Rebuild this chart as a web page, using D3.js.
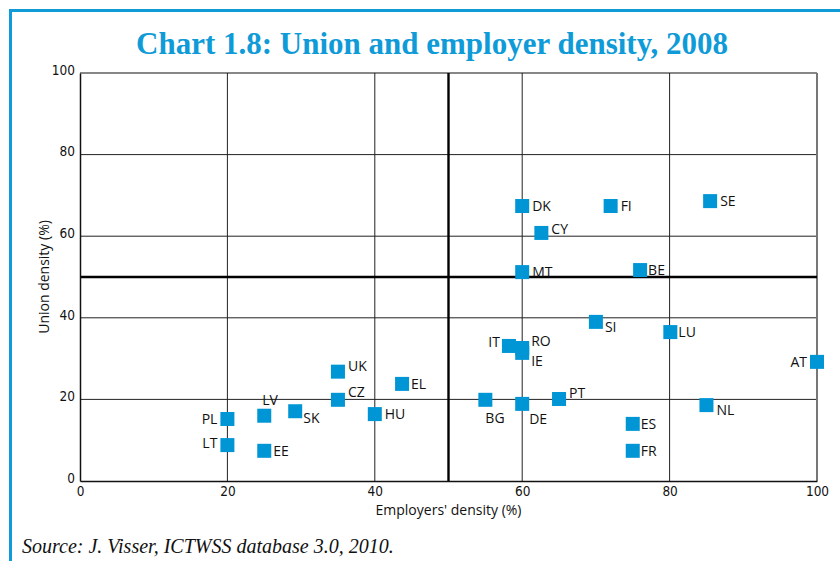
<!DOCTYPE html>
<html>
<head>
<meta charset="utf-8">
<script src="https://cdn.jsdelivr.net/npm/d3@7"></script>
<style>
  html, body { margin: 0; padding: 0; background: #fff; }
  svg { display: block; }
</style>
</head>
<body>
<div id="chart"></div>
<script>
// ==========================
// DATA
// ==========================
const countries = ["DK", "FI", "SE", "CY", "MT", "BE", "SI", "LU", "IT", "RO", "IE", "AT",
                   "UK", "EL", "CZ", "HU", "SK", "LV", "PL", "LT", "EE", "BG", "DE", "PT", "ES", "FR", "NL"];
const employerDensity = [60, 72, 85.5, 62.6, 60, 76, 70, 80.1, 58.2, 60, 60, 100,
                         35, 43.7, 35, 40, 29.2, 25, 20, 20, 25, 55, 60, 65, 75, 75, 85];
const unionDensity = [67.4, 67.4, 68.6, 60.8, 51.2, 51.7, 39, 36.5, 33.1, 32.6, 31.4, 29.2,
                      26.8, 23.8, 19.9, 16.4, 17.1, 16, 15.2, 8.8, 7.4, 19.9, 18.9, 20.1, 14, 7.4, 18.6];
const xTicks = [0, 20, 40, 60, 80, 100];
const yTicks = [0, 20, 40, 60, 80, 100];

// label placement: [dx, dy, anchor] relative to square centre
const labelPos = {
  DK: [10, 0, "start"], FI: [10, 0, "start"], SE: [10, 0, "start"], CY: [10, -4, "start"],
  MT: [10, 0, "start"], BE: [8, 0, "start"], SI: [9, 5, "start"], LU: [8, 0, "start"],
  IT: [-9, -4, "end"], RO: [9, -7, "start"], IE: [9, 8, "start"], AT: [-10, 0, "end"],
  UK: [10, -6, "start"], EL: [9, 0, "start"], CZ: [10, -8, "start"], HU: [10, 0, "start"],
  SK: [8, 7, "start"], LV: [-2, -16, "start"], PL: [-10, 0, "end"], LT: [-10, -2, "end"],
  EE: [9, 0, "start"], BG: [0, 18, "start"], DE: [7, 15, "start"], PT: [10, -6, "start"],
  ES: [8, 0, "start"], FR: [8, 0, "start"], NL: [10, 5, "start"]
};

const points = countries.map((c, i) => ({ code: c, x: employerDensity[i], y: unionDensity[i] }));

// ==========================
// SETUP
// ==========================
const width = 840;
const height = 561;
const blue = "#0f9bd7";

const svg = d3.select("#chart")
  .append("svg")
  .attr("width", width)
  .attr("height", height);

// frame (left + top blue border)
svg.append("path")
  .attr("d", `M10.5,${height} V10.5 H${width}`)
  .attr("fill", "none")
  .attr("stroke", blue)
  .attr("stroke-width", 3);

svg.append("text")
  .attr("x", 432)
  .attr("y", 54)
  .attr("text-anchor", "middle")
  .attr("font-family", "'Liberation Serif', 'DejaVu Serif', serif")
  .attr("font-weight", "bold")
  .attr("font-size", 31)
  .attr("fill", blue)
  .text("Chart 1.8: Union and employer density, 2008");

const x = d3.scaleLinear().domain([0, 100]).range([80, 817]);
const y = d3.scaleLinear().domain([0, 100]).range([481, 73]);

const plot = svg.append("g");

// gridlines
plot.selectAll(".vgrid")
  .data(xTicks.filter(d => d > 0 && d < 100))
  .enter().append("line")
  .attr("x1", d => x(d)).attr("x2", d => x(d))
  .attr("y1", y(0)).attr("y2", y(100))
  .attr("stroke", "#222").attr("stroke-width", 1);

plot.selectAll(".hgrid")
  .data(yTicks.filter(d => d > 0 && d < 100))
  .enter().append("line")
  .attr("x1", x(0)).attr("x2", x(100))
  .attr("y1", d => y(d)).attr("y2", d => y(d))
  .attr("stroke", "#222").attr("stroke-width", 1);

// top and right borders
plot.append("line")
  .attr("x1", x(0)).attr("x2", x(100))
  .attr("y1", y(100)).attr("y2", y(100))
  .attr("stroke", "#111").attr("stroke-width", 1.2);
plot.append("line")
  .attr("x1", x(100)).attr("x2", x(100))
  .attr("y1", y(100)).attr("y2", y(0))
  .attr("stroke", "#777").attr("stroke-width", 2);

// 50% dividers
plot.append("line")
  .attr("x1", x(50)).attr("x2", x(50))
  .attr("y1", y(0)).attr("y2", y(100))
  .attr("stroke", "#000").attr("stroke-width", 2.4);
plot.append("line")
  .attr("x1", x(0)).attr("x2", x(100))
  .attr("y1", y(50)).attr("y2", y(50))
  .attr("stroke", "#000").attr("stroke-width", 2.4);

// axes
const tickFont = "'DejaVu Sans Condensed', 'DejaVu Sans', sans-serif";

const xAxis = svg.append("g")
  .attr("transform", `translate(0,${y(0)})`)
  .call(d3.axisBottom(x).tickValues(xTicks).tickSize(0).tickPadding(5));
xAxis.select(".domain").attr("stroke", "#111").attr("stroke-width", 1.5);
xAxis.selectAll("text")
  .attr("font-family", tickFont).attr("font-stretch", "condensed")
  .attr("font-size", 13.5).attr("fill", "#111");

const yAxis = svg.append("g")
  .attr("transform", `translate(${x(0)},0)`)
  .call(d3.axisLeft(y).tickValues(yTicks).tickSize(0).tickPadding(5));
yAxis.select(".domain").attr("stroke", "#111").attr("stroke-width", 1.5);
yAxis.selectAll("text")
  .attr("font-family", tickFont).attr("font-stretch", "condensed")
  .attr("font-size", 13.5).attr("fill", "#111")
  .attr("dy", "0.1em");

const labelFont = "'Open Sans', 'Noto Sans', sans-serif";

svg.append("text")
  .attr("x", x(50))
  .attr("y", 515)
  .attr("text-anchor", "middle")
  .attr("font-family", labelFont)
  .attr("font-size", 14)
  .attr("fill", "#111")
  .text("Employers' density (%)");

svg.append("text")
  .attr("transform", `translate(49,${y(50)}) rotate(-90)`)
  .attr("text-anchor", "middle")
  .attr("font-family", labelFont)
  .attr("font-size", 14)
  .attr("fill", "#111")
  .text("Union density (%)");

// points
const sq = 14;
svg.append("g").selectAll("rect")
  .data(points)
  .enter().append("rect")
  .attr("x", d => x(d.x) - sq / 2)
  .attr("y", d => y(d.y) - sq / 2)
  .attr("width", sq)
  .attr("height", sq)
  .attr("fill", "#0096d6");

svg.append("g").selectAll("text")
  .data(points)
  .enter().append("text")
  .attr("x", d => x(d.x) + labelPos[d.code][0])
  .attr("y", d => y(d.y) + labelPos[d.code][1])
  .attr("dy", "0.35em")
  .attr("text-anchor", d => labelPos[d.code][2])
  .attr("font-family", labelFont)
  .attr("font-size", 14)
  .attr("fill", "#111")
  .text(d => d.code);

// source
svg.append("text")
  .attr("x", 22)
  .attr("y", 553)
  .attr("font-family", "'Liberation Serif', 'DejaVu Serif', serif")
  .attr("font-style", "italic")
  .attr("font-size", 20)
  .attr("fill", "#111")
  .text("Source: J. Visser, ICTWSS database 3.0, 2010.");
</script>
</body>
</html>
